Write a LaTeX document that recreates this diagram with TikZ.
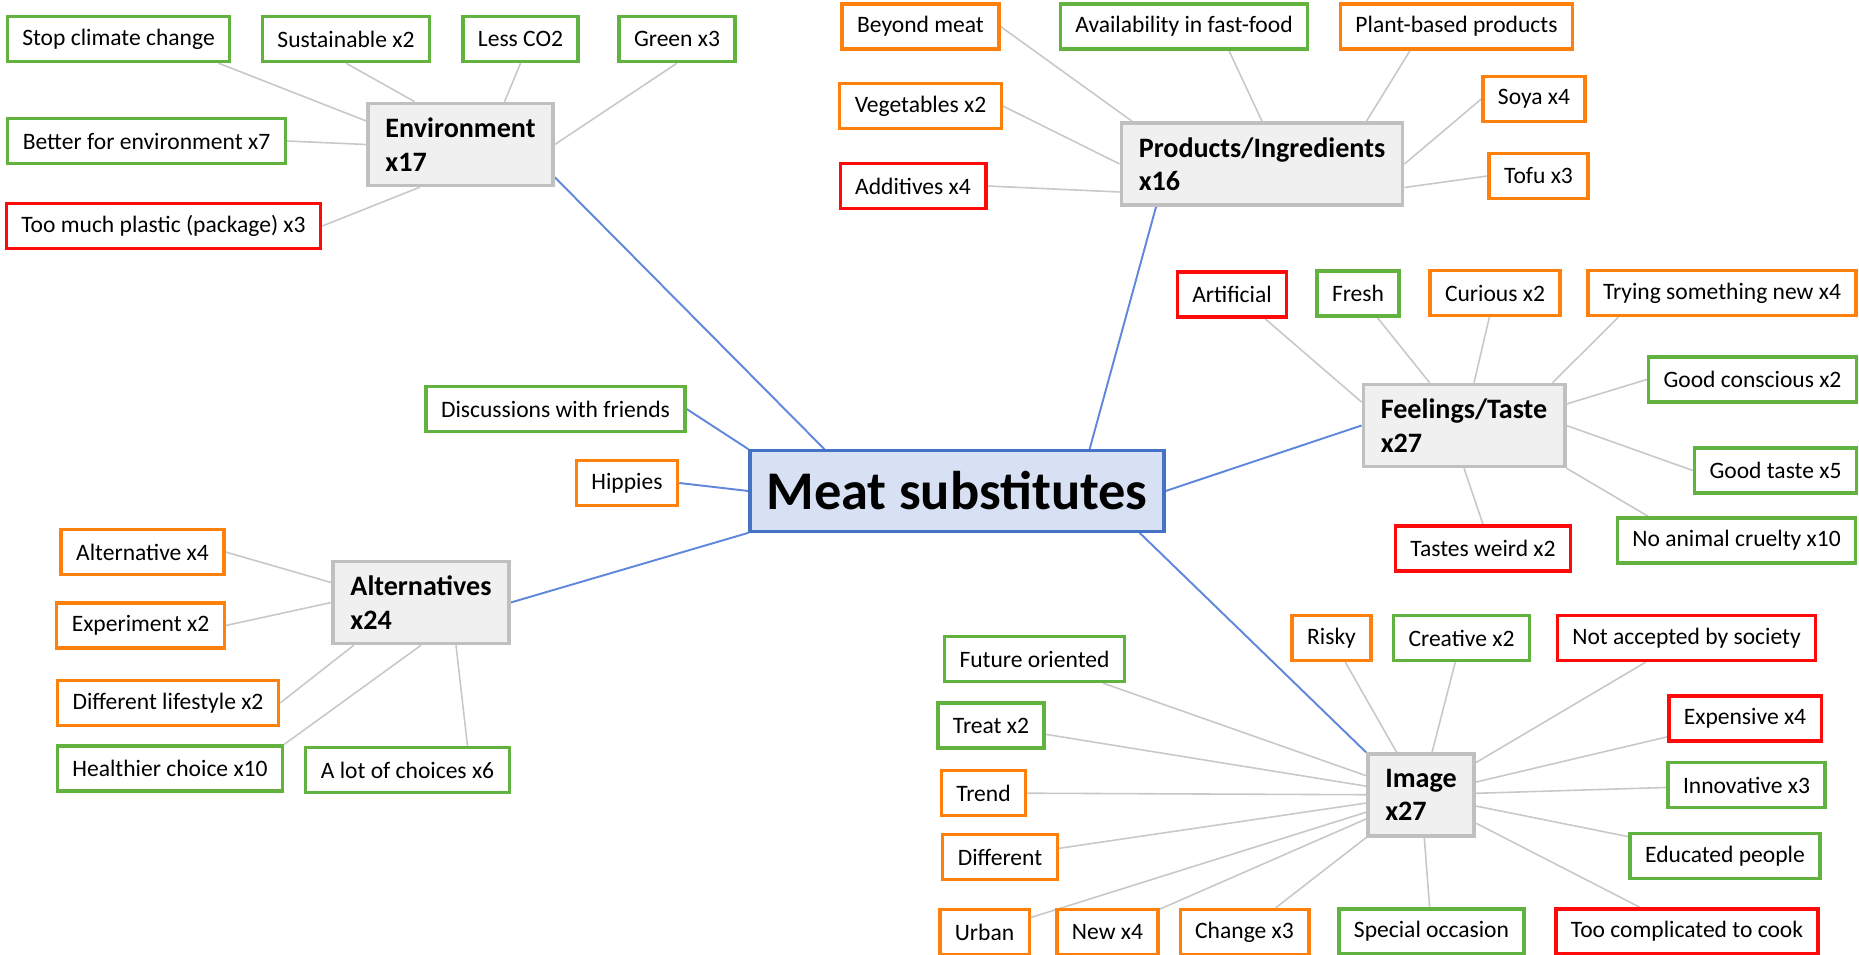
\documentclass[tikz,border=0pt]{standalone}
\usepackage{fontspec}
\setmainfont{Carlito}
\usepackage{xcolor}
\usetikzlibrary{positioning, backgrounds}

\definecolor{mapgreen}{RGB}{98,178,63}
\definecolor{maporange}{RGB}{255,128,10}
\definecolor{mapred}{RGB}{255,10,10}
\definecolor{hubgray}{RGB}{192,192,192}
\definecolor{hubfill}{RGB}{240,240,240}
\definecolor{mainblue}{RGB}{68,114,196}
\definecolor{mainfill}{RGB}{216,225,243}
\definecolor{lineblue}{RGB}{95,135,220}
\definecolor{linegray}{RGB}{200,200,200}

\begin{document}
\begin{tikzpicture}[
    every node/.style={font=\fontsize{13.4}{16}\selectfont},
    leaf/.style={draw, fill=white, line width=1.9pt, minimum height=0.9cm, inner xsep=0.3cm, inner ysep=0pt},
    goodbox/.style={leaf, draw=mapgreen},
    mixedbox/.style={leaf, draw=maporange},
    badbox/.style={leaf, draw=mapred},
    hubbox/.style={draw=hubgray, fill=hubfill, line width=2pt, align=left, inner xsep=0.35cm, minimum height=1.64cm, font=\fontsize{16}{19}\selectfont\bfseries},
    mainbox/.style={draw=mainblue, fill=mainfill, line width=1.8pt, minimum height=1.61cm, inner xsep=0.33cm, font=\fontsize{31}{36}\selectfont\bfseries},
    branch/.style={draw=lineblue, line width=1.1pt},
    twig/.style={draw=linegray, line width=0.9pt}
]
    \useasboundingbox (0,0) rectangle (37.18,-19.09);

    % Centre and hubs
    \node[mainbox] (meat) at (19.14,-9.82) {Meat substitutes};
    \node[hubbox] (env) at (9.21,-2.89) {Environment\\x17};
    \node[hubbox] (prod) at (25.24,-3.28) {Products/Ingredients\\x16};
    \node[hubbox] (feel) at (29.28,-8.51) {Feelings/Taste\\x27};
    \node[hubbox] (alt) at (8.42,-12.05) {Alternatives\\x24};
    \node[hubbox] (img) at (28.42,-15.90) {Image\\x27};
    \node[goodbox] (talks) at (11.11,-8.18) {Discussions with friends};
    \node[mixedbox] (hippies) at (12.54,-9.66) {Hippies};

    % Environment
    \node[goodbox] (env_stop) at (2.37,-0.78) {Stop climate change};
    \node[goodbox] (env_sust) at (6.92,-0.78) {Sustainable x2};
    \node[goodbox] (env_co2) at (10.41,-0.78) {Less CO2};
    \node[goodbox] (env_green) at (13.54,-0.78) {Green x3};
    \node[goodbox] (env_better) at (2.93,-2.82) {Better for environment x7};
    \node[badbox] (env_plastic) at (3.27,-4.52) {Too much plastic (package) x3};

    % Products/Ingredients
    \node[mixedbox] (prod_beyond) at (18.41,-0.53) {Beyond meat};
    \node[goodbox] (prod_fast) at (23.68,-0.53) {Availability in fast-food};
    \node[mixedbox] (prod_plant) at (29.13,-0.53) {Plant-based products};
    \node[mixedbox] (prod_veg) at (18.41,-2.12) {Vegetables x2};
    \node[mixedbox] (prod_soya) at (30.68,-1.98) {Soya x4};
    \node[badbox] (prod_add) at (18.26,-3.72) {Additives x4};
    \node[mixedbox] (prod_tofu) at (30.77,-3.52) {Tofu x3};

    % Feelings/Taste
    \node[badbox] (feel_art) at (24.64,-5.89) {Artificial};
    \node[goodbox] (feel_fresh) at (27.16,-5.87) {Fresh};
    \node[mixedbox] (feel_cur) at (29.90,-5.86) {Curious x2};
    \node[mixedbox] (feel_new) at (34.44,-5.86) {Trying something new x4};
    \node[goodbox] (feel_consc) at (35.05,-7.59) {Good conscious x2};
    \node[goodbox] (feel_taste) at (35.51,-9.41) {Good taste x5};
    \node[badbox] (feel_weird) at (29.66,-10.97) {Tastes weird x2};
    \node[goodbox] (feel_cruel) at (34.73,-10.81) {No animal cruelty x10};

    % Alternatives
    \node[mixedbox] (alt_alt) at (2.85,-11.04) {Alternative x4};
    \node[mixedbox] (alt_exp) at (2.81,-12.51) {Experiment x2};
    \node[mixedbox] (alt_life) at (3.36,-14.06) {Different lifestyle x2};
    \node[goodbox] (alt_health) at (3.40,-15.37) {Healthier choice x10};
    \node[goodbox] (alt_lot) at (8.15,-15.40) {A lot of choices x6};

    % Image
    \node[goodbox] (img_future) at (20.69,-13.18) {Future oriented};
    \node[goodbox] (img_treat) at (19.82,-14.51) {Treat x2};
    \node[mixedbox] (img_trend) at (19.67,-15.86) {Trend};
    \node[mixedbox] (img_diff) at (20.00,-17.14) {Different};
    \node[mixedbox] (img_urban) at (19.69,-18.64) {Urban};
    \node[mixedbox] (img_new) at (22.15,-18.64) {New x4};
    \node[mixedbox] (img_change) at (24.89,-18.64) {Change x3};
    \node[goodbox] (img_special) at (28.63,-18.63) {Special occasion};
    \node[badbox] (img_cook) at (33.74,-18.63) {Too complicated to cook};
    \node[mixedbox] (img_risky) at (26.63,-12.76) {Risky};
    \node[goodbox] (img_creat) at (29.23,-12.76) {Creative x2};
    \node[badbox] (img_society) at (33.73,-12.76) {Not accepted by society};
    \node[badbox] (img_exp) at (34.90,-14.37) {Expensive x4};
    \node[goodbox] (img_innov) at (34.93,-15.70) {Innovative x3};
    \node[goodbox] (img_edu) at (34.50,-17.12) {Educated people};

    \begin{scope}[on background layer]
        % Branches to the centre
        \draw[branch] ([yshift=0.2cm]env.south east) -- ([xshift=1.52cm]meat.north west);
        \draw[branch] ([xshift=0.73cm]prod.south west) -- ([xshift=-1.52cm]meat.north east);
        \draw[branch] (feel.west) -- (meat.east);
        \draw[branch] (alt.east) -- (meat.south west);
        \draw[branch] (img.north west) -- ([xshift=-0.52cm]meat.south east);
        \draw[branch] (talks.east) -- (meat.north west);
        \draw[branch] (hippies.east) -- (meat.west);

        % Twigs
        \draw[twig] ([yshift=0.47cm]env.west) -- ([xshift=2cm]env_stop.south);
        \draw[twig] ([xshift=0.97cm]env.north west) -- (env_sust.south);
        \draw[twig] ([xshift=0.88cm]env.north) -- (env_co2.south);
        \draw[twig] (env.east) -- (env_green.south);
        \draw[twig] (env.west) -- (env_better.east);
        \draw[twig] ([xshift=1.07cm]env.south west) -- (env_plastic.east);

        \draw[twig] ([xshift=0.25cm]prod.north west) -- (prod_beyond.east);
        \draw[twig] (prod.north) -- ([xshift=0.9cm]prod_fast.south);
        \draw[twig] ([xshift=-0.76cm]prod.north east) -- ([xshift=-0.93cm]prod_plant.south);
        \draw[twig] (prod.west) -- (prod_veg.east);
        \draw[twig] (prod.east) -- (prod_soya.west);
        \draw[twig] ([yshift=-0.56cm]prod.west) -- (prod_add.east);
        \draw[twig] ([yshift=-0.47cm]prod.east) -- (prod_tofu.west);

        \draw[twig] ([yshift=0.47cm]feel.west) -- ([xshift=0.66cm]feel_art.south);
        \draw[twig] (feel) -- (feel_fresh);
        \draw[twig] (feel) -- (feel_cur);
        \draw[twig] ([xshift=-0.28cm]feel.north east) -- ([xshift=0.64cm]feel_new.south west);
        \draw[twig] ([yshift=0.43cm]feel.east) -- (feel_consc.west);
        \draw[twig] (feel.east) -- (feel_taste.west);
        \draw[twig] (feel.south) -- (feel_weird.north);
        \draw[twig] (feel.south east) -- ([xshift=0.65cm]feel_cruel.north west);

        \draw[twig] ([yshift=0.4cm]alt.west) -- (alt_alt.east);
        \draw[twig] (alt.west) -- (alt_exp.east);
        \draw[twig] ([xshift=0.45cm]alt.south west) -- (alt_life.east);
        \draw[twig] (alt.south) -- (alt_health.north east);
        \draw[twig] ([xshift=0.7cm]alt.south) -- ([xshift=1.2cm]alt_lot.north);

        \draw[twig] (img) -- (img_future);
        \draw[twig] (img) -- (img_treat);
        \draw[twig] (img) -- (img_trend);
        \draw[twig] (img) -- (img_diff);
        \draw[twig] (img) -- (img_urban);
        \draw[twig] (img) -- (img_new);
        \draw[twig] (img) -- (img_change);
        \draw[twig] (img) -- (img_special);
        \draw[twig] (img) -- (img_cook);
        \draw[twig] (img) -- (img_risky);
        \draw[twig] (img) -- (img_creat);
        \draw[twig] (img) -- (img_society);
        \draw[twig] (img) -- (img_exp);
        \draw[twig] (img) -- (img_innov);
        \draw[twig] (img) -- (img_edu);
    \end{scope}

\end{tikzpicture}
\end{document}
